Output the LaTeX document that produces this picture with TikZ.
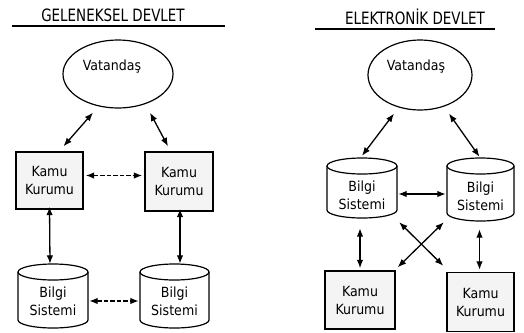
\documentclass[tikz,border=0pt]{standalone}
\usepackage{fontspec}
\setmainfont{DejaVu Sans Condensed}
\usetikzlibrary{arrows.meta,calc,shapes.geometric}
\tikzset{
  ttl/.style={font=\fontsize{17}{19}\selectfont, inner sep=0pt, xscale=0.88},
  vat/.style={ellipse, draw, line width=1.2pt, inner sep=0pt},
  vattext/.style={font=\fontsize{14}{16}\selectfont, inner sep=0pt},
  kbox/.style={rectangle, draw, line width=1.4pt, fill=gray!9, font=\fontsize{14}{18}\selectfont, align=center, inner sep=0pt},
  cyltext/.style={rectangle, font=\fontsize{14}{18}\selectfont, align=center, inner sep=0pt},
  cylb/.style={draw, line width=1.2pt, fill=white},
  dbl/.style={{Latex[length=8.5pt,width=6.5pt]}-{Latex[length=8.5pt,width=6.5pt]}, line width=1.3pt},
  dbld/.style={dbl, dash pattern=on 4.5pt off 2pt},
  uline/.style={line width=1.5pt}
}
\newcommand\cyl[4]{% xleft xright ytop-rim ybottom-rim
  \path[cylb] (#1,#3) -- (#1,#4) arc[start angle=180,end angle=0,x radius={(#2-#1)/2},y radius=8] -- (#2,#3) arc[start angle=0,end angle=-180,x radius={(#2-#1)/2},y radius=8] -- cycle;
  \draw[line width=1.2pt] (#1,#3) arc[start angle=180,end angle=0,x radius={(#2-#1)/2},y radius=8];
}
\begin{document}
\begin{tikzpicture}[x=1pt,y=-1pt]
\useasboundingbox (0,0) rectangle (524,332);
% ---------- left: Geleneksel Devlet
\node[ttl] (t1) at (113,15) {GELENEKSEL DEVLET};
\coordinate (u1a) at (12,26);
\coordinate (u1b) at (225,26);
\draw[uline] (u1a) -- (u1b);
\node[vat, minimum width=110pt, minimum height=68pt] (vL) at (118,74) {};
\node[vattext] (vLt) at (112,67) {Vatandaş};
\node[kbox, minimum width=67pt, minimum height=57pt] (kL1) at (49.5,180.5) {Kamu\\Kurumu};
\node[kbox, minimum width=68pt, minimum height=59pt] (kL2) at (179,181.5) {Kamu\\Kurumu};
\cyl{18}{88}{272}{320}
\node[cyltext, minimum width=70pt, minimum height=56pt] (bL1) at (53,301) {Bilgi\\Sistemi};
\cyl{140}{209}{272}{320}
\node[cyltext, minimum width=69pt, minimum height=56pt] (bL2) at (174.5,301) {Bilgi\\Sistemi};
\draw[dbl] ($(vL.south)+(-25,4)$) -- ($(kL1.north)+(14,-5)$);
\draw[dbl] ($(vL.south)+(32,4)$) -- ($(kL2.north)+(-11,-5)$);
\draw[dbld] ($(kL1.east)+(2,-5)$) -- ($(kL2.west)+(-2,-6)$);
\draw[dbl] ($(kL1.south)+(0,-3)$) -- ($(bL1.north)+(-3,-9)$);
\draw[dbl] ($(kL2.south)+(1,-3)$) -- ($(bL2.north)+(5.5,-9)$);
\draw[dbld] ($(bL1.east)+(1,0)$) -- ($(bL2.west)+(-1,0)$);
% ---------- right: Elektronik Devlet
\node[ttl] (t2) at (415,17) {ELEKTRONİK DEVLET};
\coordinate (u2a) at (315,29);
\coordinate (u2b) at (495,29);
\draw[uline] (u2a) -- (u2b);
\node[vat, minimum width=104pt, minimum height=70pt] (vR) at (420,75) {};
\node[vattext] (vRt) at (416,67) {Vatandaş};
\cyl{327}{397}{166}{210}
\node[cyltext, minimum width=70pt, minimum height=52pt] (bR1) at (362,195) {Bilgi\\Sistemi};
\cyl{447}{514}{166}{213}
\node[cyltext, minimum width=67pt, minimum height=52pt] (bR2) at (480.5,196) {Bilgi\\Sistemi};
\node[kbox, minimum width=70pt, minimum height=58pt] (kR1) at (360,300) {Kamu\\Kurumu};
\node[kbox, minimum width=67pt, minimum height=59pt] (kR2) at (480.5,302) {Kamu\\Kurumu};
\draw[dbl] ($(vR.south)+(-26,3)$) -- ($(bR1.north)+(0,-13)$);
\draw[dbl] ($(vR.south)+(29,3)$) -- ($(bR2.north)+(-1,-13)$);
\draw[dbl] ($(bR1.east)+(1,-1)$) -- ($(bR2.west)+(-1,-2)$);
\draw[dbl] ($(bR1.south)+(-2,7)$) -- ($(kR1.north)+(0,-2)$);
\draw[dbl] ($(bR2.south)+(-1,7)$) -- ($(kR2.north)+(-1,-2)$);
\draw[dbl] ($(bR1.south east)+(2,1)$) -- ($(kR2.north west)+(-3,-6)$);
\draw[dbl] ($(bR2.south west)+(-3,0)$) -- ($(kR1.north east)+(2,-3)$);
\end{tikzpicture}
\end{document}
